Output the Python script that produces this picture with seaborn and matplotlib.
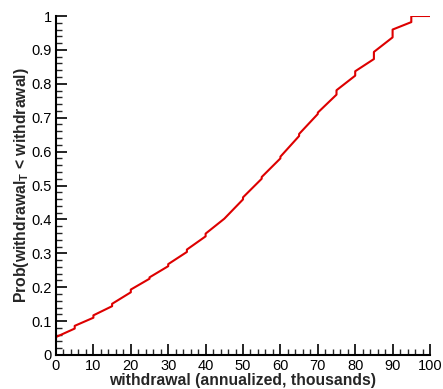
import matplotlib
matplotlib.use("Agg")
import matplotlib.pyplot as plt
import seaborn as sns
import pandas as pd
from matplotlib.ticker import MultipleLocator

withdrawal = [0, 0, 5, 5, 10, 10, 15, 15, 20, 20, 25, 25, 30, 30, 35, 35, 40, 40, 45,
              50, 50, 55, 55, 60, 60, 65, 65, 70, 70, 75, 75, 80, 80, 85, 85, 90, 90,
              95, 95, 100]
prob = [0.045, 0.053, 0.078, 0.086, 0.110, 0.117, 0.144, 0.151, 0.185, 0.193, 0.225,
        0.229, 0.262, 0.268, 0.304, 0.311, 0.350, 0.358, 0.402, 0.459, 0.465, 0.520,
        0.525, 0.580, 0.585, 0.646, 0.652, 0.711, 0.715, 0.768, 0.781, 0.824, 0.837,
        0.873, 0.894, 0.937, 0.960, 0.982, 1.0, 1.0]

x_ticks = [0, 10, 20, 30, 40, 50, 60, 70, 80, 90, 100]
y_ticks = [0, 0.1, 0.2, 0.3, 0.4, 0.5, 0.6, 0.7, 0.8, 0.9, 1]
y_ticklabels = ["0", "0.1", "0.2", "0.3", "0.4", "0.5", "0.6", "0.7", "0.8", "0.9", "1"]

df = pd.DataFrame({"withdrawal": withdrawal, "prob": prob})

sns.set_style("ticks")
plt.rcParams["font.family"] = ["Liberation Sans", "DejaVu Sans"]
plt.rcParams["mathtext.fontset"] = "custom"
plt.rcParams["mathtext.bf"] = "Liberation Sans:bold"
plt.rcParams["mathtext.rm"] = "Liberation Sans:bold"

fig = plt.figure(figsize=(4.43, 3.89), dpi=100)
ax = fig.add_axes([56 / 443, 34 / 389, 374 / 443, 339 / 389])

sns.lineplot(data=df, x="withdrawal", y="prob", estimator=None, sort=False,
             color="#dd0000", linewidth=1.5, ax=ax)

ax.set_xlim(0, 100)
ax.set_ylim(0, 1)
ax.set_xticks(x_ticks)
ax.set_yticks(y_ticks)
ax.set_yticklabels(y_ticklabels)
ax.xaxis.set_minor_locator(MultipleLocator(2))
ax.yaxis.set_minor_locator(MultipleLocator(0.02))
ax.tick_params(which="major", direction="in", length=8, width=1.2, labelsize=10.5,
               colors="black", pad=3)
ax.tick_params(which="minor", direction="in", length=4, width=1.0)
for s in ["top", "right"]:
    ax.spines[s].set_visible(False)
for s in ["left", "bottom"]:
    ax.spines[s].set_linewidth(1.5)
    ax.spines[s].set_color("black")

ax.set_xlabel("withdrawal (annualized, thousands)", fontsize=11.3, fontweight="bold", labelpad=0)
ax.set_ylabel(r"Prob(withdrawal$_{\mathbf{T}}$ < withdrawal)", fontsize=11.3,
              fontweight="bold", labelpad=0)

fig.savefig("out.png", dpi=100)
